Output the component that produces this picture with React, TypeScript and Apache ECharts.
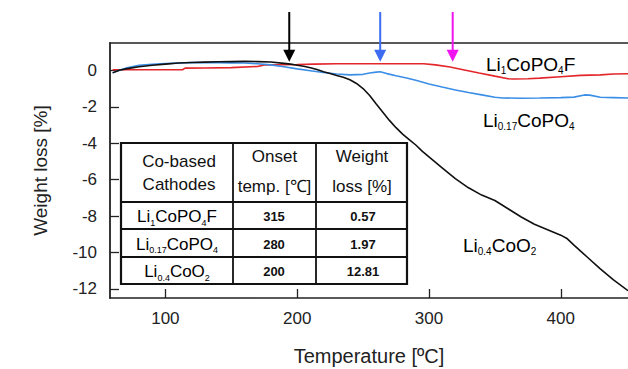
import React, { useEffect, useRef } from "react";
import * as echarts from "echarts";

// ---------- data ----------
const xTicks = [100, 200, 300, 400];
const yTicks = [0, -2, -4, -6, -8, -10, -12];

const li04CoO2Temps = [60, 65, 70, 80, 90, 100, 110, 120, 130, 140, 150, 160, 170, 180, 190, 195, 200, 205, 210, 215, 220, 225, 230, 235, 240, 245, 250, 255, 260, 265, 270, 275, 280, 285, 290, 295, 300, 310, 320, 330, 340, 350, 360, 370, 380, 390, 400, 405, 410, 420, 430, 440, 451];
const li04CoO2Values = [-0.14, 0.0, 0.08, 0.2, 0.28, 0.34, 0.4, 0.43, 0.45, 0.47, 0.48, 0.49, 0.48, 0.46, 0.38, 0.34, 0.28, 0.22, 0.14, 0.04, -0.08, -0.17, -0.28, -0.38, -0.52, -0.72, -1.0, -1.38, -1.85, -2.3, -2.75, -3.15, -3.5, -3.8, -4.1, -4.45, -4.75, -5.35, -5.95, -6.45, -6.85, -7.15, -7.6, -8.05, -8.45, -8.75, -9.05, -9.25, -9.6, -10.25, -10.9, -11.5, -12.1];

const li017CoPO4Temps = [60, 65, 70, 80, 90, 100, 110, 120, 130, 140, 150, 160, 170, 180, 190, 200, 210, 220, 230, 240, 250, 255, 260, 263, 268, 275, 283, 290, 300, 310, 320, 330, 340, 350, 356, 370, 384, 400, 410, 418, 422, 430, 440, 451];
const li017CoPO4Values = [-0.14, 0.0, 0.12, 0.27, 0.33, 0.37, 0.4, 0.42, 0.42, 0.42, 0.41, 0.4, 0.36, 0.3, 0.2, 0.08, -0.02, -0.12, -0.2, -0.25, -0.22, -0.15, -0.1, -0.08, -0.18, -0.3, -0.42, -0.55, -0.75, -0.92, -1.08, -1.22, -1.35, -1.48, -1.52, -1.53, -1.52, -1.5, -1.47, -1.35, -1.36, -1.48, -1.5, -1.52];

const li1CoPO4FTemps = [60, 70, 80, 100, 113, 115, 130, 150, 170, 175, 190, 200, 213, 230, 260, 296, 305, 316, 325, 338, 350, 360, 364, 375, 384, 400, 415, 430, 440, 451];
const li1CoPO4FValues = [0.03, 0.03, 0.03, 0.03, 0.03, 0.12, 0.13, 0.15, 0.21, 0.3, 0.31, 0.32, 0.34, 0.36, 0.36, 0.36, 0.3, 0.18, 0.05, -0.15, -0.32, -0.46, -0.48, -0.46, -0.43, -0.35, -0.28, -0.25, -0.2, -0.19];

// onset arrows (temperature where each arrow points)
const arrowTemps = [194, 263, 318];
const arrowColors = ["#000000", "#3d6cf0", "#f014f0"];

// table
const tableCathodes = [
  "{n|Li}{s|1}{n|CoPO}{s|4}{n|F}",
  "{n|Li}{s|0.17}{n|CoPO}{s|4}",
  "{n|Li}{s|0.4}{n|CoO}{s|2}",
];
const onsetTemps = ["315", "280", "200"];
const weightLosses = ["0.57", "1.97", "12.81"];

const FONT = "'Liberation Sans', Arial, Helvetica, sans-serif";

function zip(t: number[], v: number[]) {
  return t.map((x, i) => [x, v[i]]);
}

export default function App() {
  const ref = useRef<HTMLDivElement>(null);
  useEffect(() => {
    if (!ref.current) return;
    const chart = echarts.init(ref.current, undefined, { renderer: "svg" });

    const subRich = (big: number, small: number) => ({
      n: { fontSize: big, fontFamily: FONT, color: "#111", lineHeight: big + 4 },
      s: { fontSize: small, fontFamily: FONT, color: "#111", verticalAlign: "bottom", padding: [7, 0, 0, 0] },
    });

    // table graphic
    const colX = [121, 233, 316, 407];
    const rowY = [143, 202, 229, 257, 284];
    const tableEls: any[] = [];
    tableEls.push({
      type: "rect",
      shape: { x: colX[0], y: rowY[0], width: colX[3] - colX[0], height: rowY[4] - rowY[0] },
      style: { fill: "#fff", stroke: "#111", lineWidth: 2.2 },
      z: 10,
    });
    for (let i = 1; i < 3; i++) {
      tableEls.push({ type: "line", shape: { x1: colX[i], y1: rowY[0], x2: colX[i], y2: rowY[4] }, style: { stroke: "#111", lineWidth: 1.8 }, z: 11 });
    }
    for (let j = 1; j < 4; j++) {
      tableEls.push({ type: "line", shape: { x1: colX[0], y1: rowY[j], x2: colX[3], y2: rowY[j] }, style: { stroke: "#111", lineWidth: 1.8 }, z: 11 });
    }
    const headers = [
      { t: "Co-based\nCathodes", x: 179, y: 173, lh: 23 },
      { t: "Onset\ntemp. [\u2103]", x: 274.5, y: 171, lh: 30 },
      { t: "Weight\nloss [%]", x: 362, y: 171, lh: 30 },
    ];
    headers.forEach((h) => {
      tableEls.push({
        type: "text", x: h.x, y: h.y, z: 12,
        style: { text: h.t, fontSize: 17, fontFamily: FONT, fill: "#111", align: "center", verticalAlign: "middle", lineHeight: h.lh },
      });
    });
    for (let r = 0; r < 3; r++) {
      const cy = (rowY[r + 1] + rowY[r + 2]) / 2 + 1;
      tableEls.push({
        type: "text", x: 177, y: cy, z: 12,
        style: { text: tableCathodes[r], rich: subRich(17, 9), align: "center", verticalAlign: "middle" },
      });
      tableEls.push({
        type: "text", x: 274, y: cy, z: 12,
        style: { text: onsetTemps[r], fontSize: 13, fontWeight: "bold", fontFamily: FONT, fill: "#111", align: "center", verticalAlign: "middle" },
      });
      tableEls.push({
        type: "text", x: 363, y: cy, z: 12,
        style: { text: weightLosses[r], fontSize: 13, fontWeight: "bold", fontFamily: FONT, fill: "#111", align: "center", verticalAlign: "middle" },
      });
    }

    const labelEls: any[] = [
      { type: "text", x: 486, y: 64, z: 12, style: { text: "{n|Li}{s|1}{n|CoPO}{s|4}{n|F}", rich: subRich(19, 10), align: "left", verticalAlign: "middle" } },
      { type: "text", x: 483, y: 120, z: 12, style: { text: "{n|Li}{s|0.17}{n|CoPO}{s|4}", rich: subRich(19, 10), align: "left", verticalAlign: "middle" } },
      { type: "text", x: 463, y: 245, z: 12, style: { text: "{n|Li}{s|0.4}{n|CoO}{s|2}", rich: subRich(19, 10), align: "left", verticalAlign: "middle" } },
    ];

    const line = (name: string, data: number[][], color: string, z: number) => ({
      type: "line", name, data, showSymbol: false, symbol: "none", z,
      lineStyle: { color, width: 1.6 }, clip: true,
    });

    chart.setOption({
      animation: false,
      backgroundColor: "#fff",
      grid: { left: 110, top: 43, right: 0, bottom: 71, outerBoundsMode: "none", containLabel: false },
      xAxis: [
        {
          type: "value", min: 58, max: 451, position: "bottom",
          name: "Temperature [\u00baC]", nameLocation: "middle", nameGap: 48,
          nameTextStyle: { fontSize: 20, fontFamily: FONT, color: "#222" },
          axisLine: { show: true, onZero: false, lineStyle: { color: "#222", width: 1.5 } },
          axisTick: { show: true, inside: true, length: 9, customValues: xTicks, lineStyle: { color: "#222", width: 1.3 } },
          axisLabel: { customValues: xTicks, fontSize: 17, fontFamily: FONT, color: "#222", margin: 12 },
          splitLine: { show: false },
        },
        {
          type: "value", min: 58, max: 451, position: "top",
          axisLine: { show: true, onZero: false, lineStyle: { color: "#222", width: 1.5 } },
          axisTick: { show: false }, axisLabel: { show: false }, splitLine: { show: false },
        },
      ],
      yAxis: {
        type: "value", min: -12.5, max: 1.5,
        name: "Weight loss [%]", nameLocation: "middle", nameGap: 60, nameRotate: 90,
        nameTextStyle: { fontSize: 19, fontFamily: FONT, color: "#222" },
        axisLine: { show: true, onZero: false, lineStyle: { color: "#222", width: 1.8 } },
        axisTick: { show: true, inside: true, length: 9, customValues: yTicks, lineStyle: { color: "#222", width: 1.3 } },
        axisLabel: { customValues: yTicks, fontSize: 17, fontFamily: FONT, color: "#222", margin: 13 },
        splitLine: { show: false },
      },
      series: [
        line("Li1CoPO4F", zip(li1CoPO4FTemps, li1CoPO4FValues), "#e3262a", 3),
        line("Li0.17CoPO4", zip(li017CoPO4Temps, li017CoPO4Values), "#3b8ee6", 4),
        line("Li0.4CoO2", zip(li04CoO2Temps, li04CoO2Values), "#111111", 5),
      ],
      graphic: [...tableEls, ...labelEls],
    });

    // arrows positioned from data coordinates
    const arrowEls: any[] = [];
    arrowTemps.forEach((t, i) => {
      const tip = chart.convertToPixel({ gridIndex: 0 }, [t, 0.47]) as number[];
      const top = chart.convertToPixel({ gridIndex: 0 }, [t, 3.2]) as number[];
      const x = tip[0];
      arrowEls.push({
        type: "line", z: 20,
        shape: { x1: x, y1: top[1], x2: x, y2: tip[1] - 8 },
        style: { stroke: arrowColors[i], lineWidth: 2 },
      });
      arrowEls.push({
        type: "polygon", z: 20,
        shape: { points: [[x - 6, tip[1] - 12], [x + 6, tip[1] - 12], [x, tip[1]]] },
        style: { fill: arrowColors[i] },
      });
    });
    chart.setOption({ graphic: [...tableEls, ...labelEls, ...arrowEls] });

    return () => chart.dispose();
  }, []);
  return (
    <div
      ref={ref}
      style={{ position: "fixed", left: 0, top: 0, width: 628, height: 369, background: "#fff" }}
    />
  );
}
